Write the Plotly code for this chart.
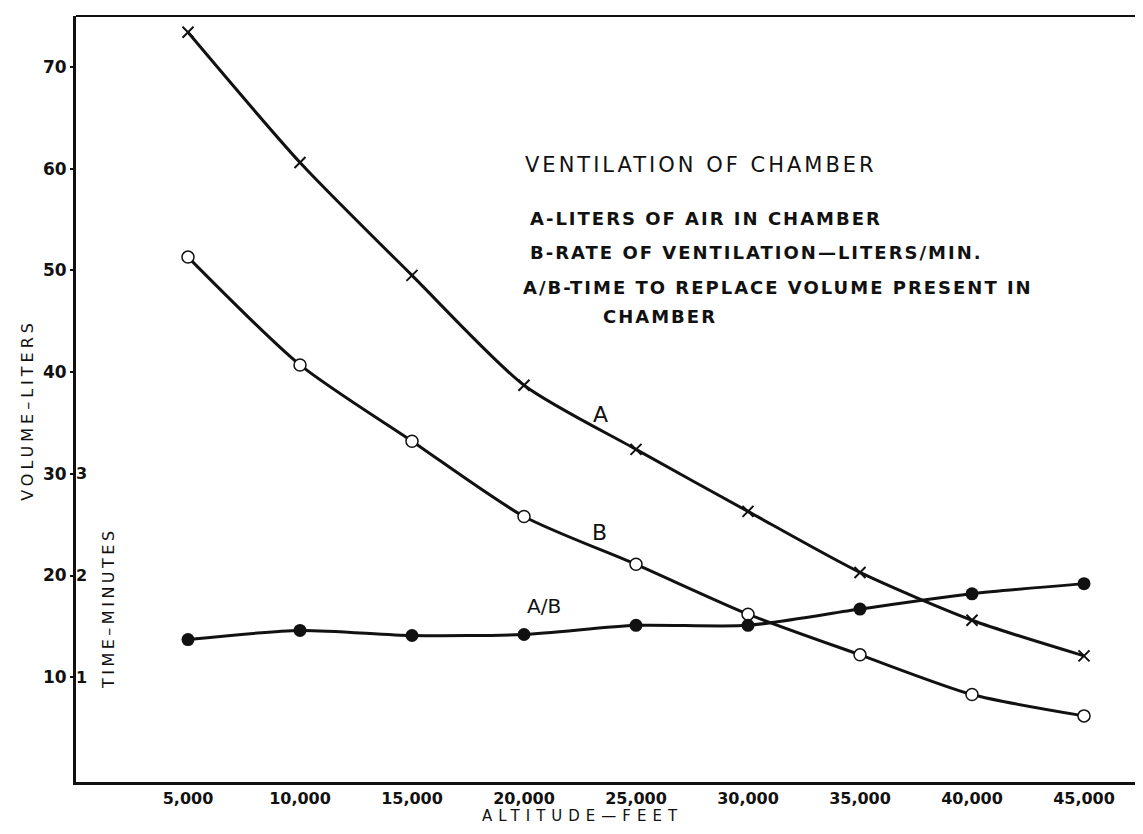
import plotly.graph_objects as go

altitude = [5000, 10000, 15000, 20000, 25000, 30000, 35000, 40000, 45000]
liters_in_chamber = [73.4, 60.6, 49.5, 38.7, 32.4, 26.3, 20.3, 15.6, 12.1]
ventilation_rate = [51.3, 40.7, 33.2, 25.8, 21.1, 16.2, 12.2, 8.3, 6.2]
replace_minutes = [1.37, 1.46, 1.41, 1.42, 1.51, 1.51, 1.67, 1.82, 1.92]

x_ticks = [5000, 10000, 15000, 20000, 25000, 30000, 35000, 40000, 45000]
x_labels = ["5,000", "10,000", "15,000", "20,000", "25,000", "30,000", "35,000", "40,000", "45,000"]
y_ticks = [10, 20, 30, 40, 50, 60, 70]
y2_ticks = [1, 2, 3]

FONT = "DejaVu Sans"
INK = "#111111"

fig = go.Figure()
fig.add_trace(go.Scatter(
    x=altitude, y=liters_in_chamber, mode="lines+markers",
    line=dict(color=INK, width=3, shape="spline", smoothing=0.7),
    marker=dict(symbol="x-thin", size=11, line=dict(color=INK, width=2)),
    showlegend=False, name="A"))
fig.add_trace(go.Scatter(
    x=altitude, y=ventilation_rate, mode="lines+markers",
    line=dict(color=INK, width=3, shape="spline", smoothing=0.7),
    marker=dict(symbol="circle", size=12, color="white", line=dict(color=INK, width=1.5)),
    showlegend=False, name="B"))
fig.add_trace(go.Scatter(
    x=altitude, y=replace_minutes, mode="lines+markers", yaxis="y2",
    line=dict(color=INK, width=3, shape="spline", smoothing=0.7),
    marker=dict(symbol="circle", size=13, color=INK),
    showlegend=False, name="A/B"))

fig.update_layout(
    width=1143, height=834,
    margin=dict(l=68, r=11, t=8, b=60),
    paper_bgcolor="white", plot_bgcolor="white",
    font=dict(family=FONT, color=INK),
    xaxis=dict(range=[0, 47500], tickvals=x_ticks, ticktext=x_labels,
               showgrid=False, zeroline=False, showline=True, linecolor=INK,
               linewidth=3, mirror=False, ticks="",
               tickfont=dict(size=16, family=FONT, weight="bold")),
    yaxis=dict(range=[-0.3, 75], tickvals=y_ticks, showgrid=False, zeroline=False,
               showline=True, linecolor=INK, linewidth=3, mirror=False,
               ticks="outside", ticklen=3, tickwidth=2, tickcolor=INK,
               tickfont=dict(size=17, family=FONT, weight="bold")),
    yaxis2=dict(range=[-0.03, 7.5], tickvals=y2_ticks, overlaying="y", side="left",
                anchor="x", showgrid=False, zeroline=False, showline=False,
                ticklabelposition="inside", ticks="", ticklabelstandoff=-3,
                tickfont=dict(size=16, family=FONT, weight="bold", color=INK)),
    shapes=[
        dict(type="line", xref="paper", yref="paper", x0=0, x1=1, y0=1, y1=1,
             line=dict(color=INK, width=2)),
        dict(type="line", xref="paper", yref="paper", x0=1, x1=1, y0=0, y1=1,
             line=dict(color=INK, width=2.5)),
    ],
)

def note(text, x, y, size, xanchor="left", xref="paper", yref="paper",
         weight="normal", angle=0, ls=0):
    if ls:
        text = '<span style="letter-spacing:%spx">%s</span>' % (ls, text)
    fig.add_annotation(text=text, x=x, y=y, xref=xref, yref=yref, showarrow=False,
                       xanchor=xanchor, yanchor="middle", textangle=angle,
                       font=dict(size=size, family=FONT, color=INK, weight=weight))

note("VENTILATION OF CHAMBER", 0.42, 0.805, 21, ls=3)
note("A-LITERS OF AIR IN CHAMBER", 0.425, 0.736, 18, weight="bold", ls=2)
note("B-RATE OF VENTILATION—LITERS/MIN.", 0.425, 0.691, 18, weight="bold", ls=2)
note("A/B-TIME TO REPLACE VOLUME PRESENT IN", 0.418, 0.645, 18, weight="bold", ls=2)
note("CHAMBER", 0.493, 0.608, 18, weight="bold", ls=2)

note("A", 23400, 35.8, 22, xanchor="center", xref="x", yref="y")
note("B", 23350, 24.2, 22, xanchor="center", xref="x", yref="y")
note("A/B", 20900, 17.0, 20, xanchor="center", xref="x", yref="y")

note("VOLUME–LITERS", -0.045, 0.486, 16, xanchor="center", angle=-90, ls=4)
note("TIME–MINUTES", 0.030, 0.227, 16, xanchor="center", angle=-90, ls=3.5)
note("ALTITUDE—FEET", 0.4765, -0.044, 15, xanchor="center", ls=6)

fig.write_html("out.html")
